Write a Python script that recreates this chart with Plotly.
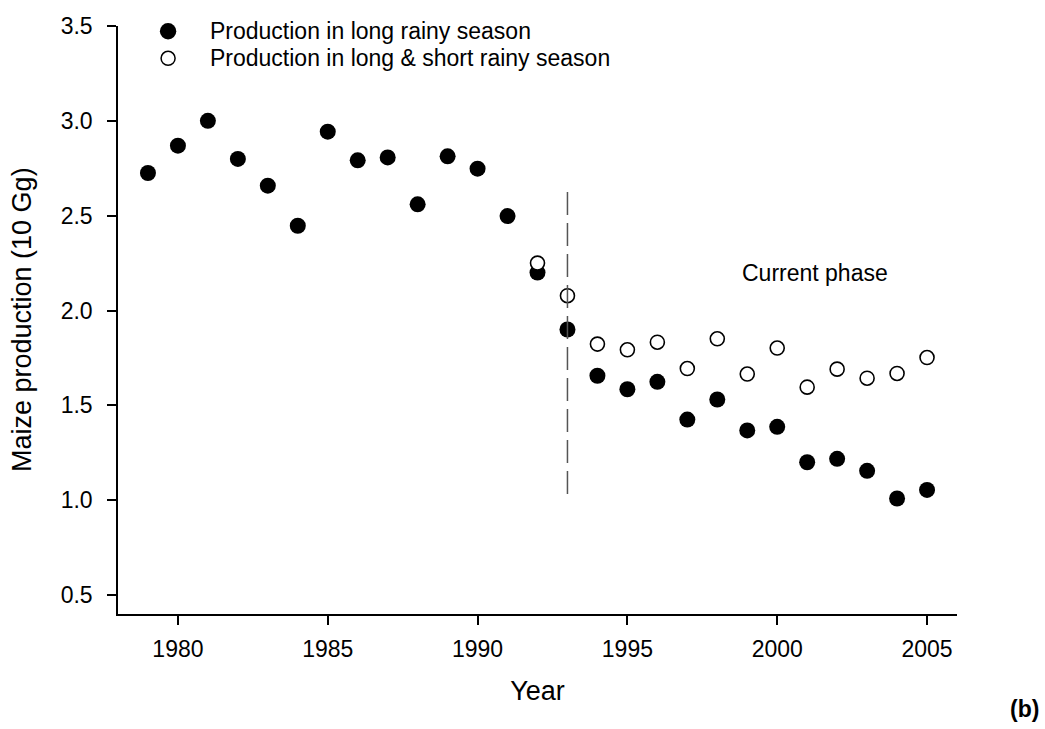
import plotly.graph_objects as go

# Maize production (10 Gg) by year
years_long = list(range(1979, 2006))
prod_long = [2.725, 2.869, 3.00, 2.799, 2.658, 2.447, 2.943, 2.792, 2.807, 2.560,
             2.813, 2.748, 2.498, 2.20, 1.90, 1.656, 1.585, 1.624, 1.425, 1.531,
             1.368, 1.387, 1.200, 1.218, 1.155, 1.009, 1.054]

years_both = list(range(1992, 2006))
prod_both = [2.250, 2.078, 1.823, 1.793, 1.833, 1.694, 1.851, 1.665, 1.802, 1.596,
             1.691, 1.643, 1.668, 1.752]

legend_labels = ["Production in long rainy season",
                 "Production in long & short rainy season"]

x_ticks = [1980, 1985, 1990, 1995, 2000, 2005]
y_ticks = [0.5, 1.0, 1.5, 2.0, 2.5, 3.0, 3.5]

phase_year = 1993
phase_span = [1.017, 2.625]

FONT = "Liberation Sans, Arial, sans-serif"

fig = go.Figure()

fig.add_trace(go.Scatter(
    x=years_long, y=prod_long, mode="markers", name=legend_labels[0],
    marker=dict(symbol="circle", size=16, color="black",
                line=dict(width=0)),
    showlegend=False, cliponaxis=False,
))
fig.add_trace(go.Scatter(
    x=years_both, y=prod_both, mode="markers", name=legend_labels[1],
    marker=dict(symbol="circle", size=14, color="white",
                line=dict(width=1.6, color="black")),
    showlegend=False, cliponaxis=False,
))

# separation line marking the start of the current phase
fig.add_shape(type="line", xref="x", yref="y",
              x0=phase_year, x1=phase_year, y0=phase_span[1], y1=phase_span[0],
              line=dict(color="#555555", width=1.5, dash="23px,8px"))

fig.add_annotation(x=2001.25, y=2.197, xref="x", yref="y", text="Current phase",
                   showarrow=False, font=dict(family=FONT, size=23, color="black"))

# key in the upper left corner
key_y = [0.991, 0.945]
for i, lab in enumerate(legend_labels):
    filled = i == 0
    r = 8.2 if filled else 7
    fig.add_shape(type="circle", xref="paper", yref="paper",
                  xsizemode="pixel", ysizemode="pixel",
                  xanchor=0.0597, yanchor=key_y[i],
                  x0=-r, x1=r, y0=-r, y1=r,
                  fillcolor="black" if filled else "white",
                  line=dict(color="black", width=0 if filled else 1.5))
    fig.add_annotation(x=0.107, y=key_y[i], xref="paper", yref="paper",
                       xanchor="left", yanchor="middle", text=lab,
                       showarrow=False,
                       font=dict(family=FONT, size=23, color="black"))

# y-axis title
fig.add_annotation(x=-0.1144, y=0.5, xref="paper", yref="paper",
                   xanchor="center", yanchor="middle", textangle=-90,
                   text="Maize production (10 Gg)", showarrow=False,
                   font=dict(family=FONT, size=27, color="black"))

fig.add_annotation(x=1.0799, y=-0.1616, xref="paper", yref="paper",
                   xanchor="center", yanchor="middle", text="<b>(b)</b>",
                   showarrow=False, font=dict(family=FONT, size=23, color="black"))

fig.update_layout(
    width=1045, height=729,
    margin=dict(l=118, r=88, t=26, b=115),
    paper_bgcolor="white", plot_bgcolor="white",
    font=dict(family=FONT, color="black"),
    showlegend=False,
    xaxis=dict(
        range=[1978, 2006], tickvals=x_ticks, showgrid=False, zeroline=False,
        showline=True, linecolor="black", linewidth=1.5,
        ticks="outside", ticklen=9, tickwidth=1.5, tickcolor="black",
        tickfont=dict(family=FONT, size=23), ticklabelstandoff=5,
        title=dict(text="Year", font=dict(family=FONT, size=27), standoff=20),
    ),
    yaxis=dict(
        range=[0.4, 3.5], tickvals=y_ticks, tickformat=".1f", showgrid=False,
        zeroline=False, showline=True, linecolor="black", linewidth=1.5,
        ticks="outside", ticklen=9, tickwidth=1.5, tickcolor="black",
        tickfont=dict(family=FONT, size=23), ticklabelstandoff=10,
    ),
)

fig.write_html("out.html")
